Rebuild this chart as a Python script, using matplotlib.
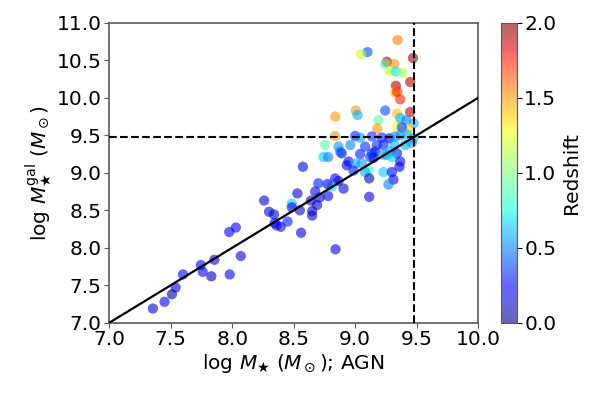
import matplotlib
matplotlib.use("Agg")
import matplotlib.pyplot as plt
import numpy as np

mass_agn = [9.344, 9.10, 9.046, 9.47, 9.258, 9.244, 9.317, 9.279, 9.331, 9.385,
            9.447, 9.331, 9.325, 9.341, 9.366,
            8.837, 9.005, 9.019, 9.244, 9.339, 9.447, 9.19, 9.18, 9.339, 9.366,
            9.415, 9.474, 9.433, 9.38, 9.366, 8.837, 9.0, 9.04, 9.136, 9.217,
            9.279, 9.325, 9.42, 9.474, 8.756, 8.864, 8.96, 9.081, 9.176, 9.23,
            9.32, 9.407, 9.46, 8.89, 9.136, 9.163, 9.23, 9.285, 9.34, 9.15,
            8.878, 9.04, 9.122, 9.258, 9.298, 8.742, 8.78, 8.575, 8.946, 8.932,
            9.0, 9.054, 9.108, 9.081, 8.986, 9.23, 9.298, 9.36, 9.366, 9.311,
            9.27, 9.114, 9.114, 8.905, 8.864, 8.837, 8.81, 8.775, 8.70, 8.78,
            8.71, 8.69, 8.675, 8.64, 8.65, 8.65, 8.53, 8.55, 8.56, 8.485,
            8.485, 8.45, 8.395, 8.36, 8.345, 8.34, 8.30, 8.26, 8.84, 8.03,
            7.976, 8.07, 7.98, 7.855, 7.83, 7.76, 7.745, 7.60, 7.54, 7.51,
            7.45, 7.355]
mass_gal = [10.77, 10.61, 10.58, 10.53, 10.48, 10.45, 10.45, 10.35, 10.35, 10.33,
            10.21, 10.16, 10.07, 10.08, 9.98,
            9.75, 9.83, 9.77, 9.83, 9.79, 9.81, 9.70, 9.59, 9.62, 9.73,
            9.70, 9.66, 9.59, 9.605, 9.50, 9.49, 9.49, 9.47, 9.485, 9.47,
            9.46, 9.485, 9.51, 9.46, 9.37, 9.35, 9.37, 9.35, 9.37, 9.37,
            9.37, 9.37, 9.40, 9.26, 9.26, 9.285, 9.24, 9.285, 9.26, 9.20,
            9.28, 9.25, 9.21, 9.24, 9.21, 9.21, 9.21, 9.08, 9.15, 9.10,
            9.125, 9.125, 9.035, 9.01, 9.03, 9.01, 9.01, 9.08, 9.15, 8.91,
            8.845, 8.925, 8.68, 8.79, 8.89, 8.925, 8.82, 8.85, 8.86, 8.69,
            8.67, 8.57, 8.75, 8.63, 8.49, 8.43, 8.725, 8.50, 8.20, 8.59,
            8.54, 8.35, 8.28, 8.30, 8.33, 8.445, 8.48, 8.63, 7.98, 8.27,
            8.21, 7.89, 7.645, 7.84, 7.62, 7.68, 7.77, 7.645, 7.47, 7.38,
            7.28, 7.19]
redshift = [1.55, 0.40, 1.20, 1.95, 1.90, 0.90, 1.50, 1.20, 0.70, 1.10,
            1.90, 1.90, 1.40, 1.75, 1.75,
            1.50, 1.50, 0.60, 0.40, 1.40, 1.90, 0.90, 1.50, 1.25, 0.60,
            0.50, 0.60, 1.35, 0.35, 0.55, 1.50, 0.30, 0.55, 0.35, 0.30,
            0.15, 0.55, 0.60, 0.60, 0.90, 0.55, 0.50, 0.35, 0.35, 0.30,
            0.60, 0.60, 0.55, 0.25, 0.30, 0.30, 0.60, 0.60, 0.30, 0.10,
            0.45, 0.30, 0.35, 0.60, 0.65, 0.65, 0.50, 0.20, 0.20, 0.20,
            0.60, 0.55, 0.80, 0.60, 0.30, 0.65, 0.25, 0.25, 0.25, 0.25,
            0.50, 0.10, 0.15, 0.15, 0.20, 0.25, 0.65, 0.20, 0.30, 0.20,
            0.15, 0.15, 0.15, 0.15, 0.15, 0.15, 0.15, 0.15, 0.15, 0.65,
            0.20, 0.30, 0.15, 0.25, 0.25, 0.15, 0.15, 0.15, 0.15, 0.20,
            0.20, 0.15, 0.20, 0.15, 0.10, 0.20, 0.20, 0.20, 0.20, 0.05,
            0.20, 0.15]

threshold = 9.477
x_ticks = [7.0, 7.5, 8.0, 8.5, 9.0, 9.5, 10.0]
y_ticks = [7.0, 7.5, 8.0, 8.5, 9.0, 9.5, 10.0, 10.5, 11.0]
cb_ticks = [0.0, 0.5, 1.0, 1.5, 2.0]

FS = 14.5
plt.rcParams['font.size'] = FS
fig = plt.figure(figsize=(6, 4), dpi=100)
ax = fig.add_axes([0.182, 0.193, 0.615, 0.75])
cax = fig.add_axes([0.835, 0.193, 0.026, 0.75])

sc = ax.scatter(mass_agn, mass_gal, c=redshift, cmap='jet', vmin=0, vmax=2,
                s=55, alpha=0.6, edgecolors='none', zorder=2)
ax.plot([7, 10], [7, 10], color='black', lw=1.6, zorder=3)
ax.axhline(threshold, color='black', ls='--', lw=1.5, zorder=3)
ax.axvline(threshold, color='black', ls='--', lw=1.5, zorder=3)

ax.set_xlim(7, 10)
ax.set_ylim(7, 11)
ax.set_xticks(x_ticks)
ax.set_yticks(y_ticks)
ax.set_xlabel(r'log $M_\bigstar$ ($M_\odot$); AGN', fontsize=FS, labelpad=2)
ax.set_ylabel(r'log $M_\bigstar^{\rm gal}$ ($M_\odot$)', fontsize=FS, labelpad=2)
for sp in ax.spines.values():
    sp.set_color('0.35')
    sp.set_linewidth(1.2)
ax.tick_params(colors='0.35', labelcolor='black', labelsize=FS, pad=2)

cb = fig.colorbar(sc, cax=cax, ticks=cb_ticks)
cb.set_label('Redshift', fontsize=FS)
cb.ax.tick_params(labelsize=FS, pad=2)
cb.outline.set_edgecolor('0.35')

fig.savefig('out.png', dpi=100)
